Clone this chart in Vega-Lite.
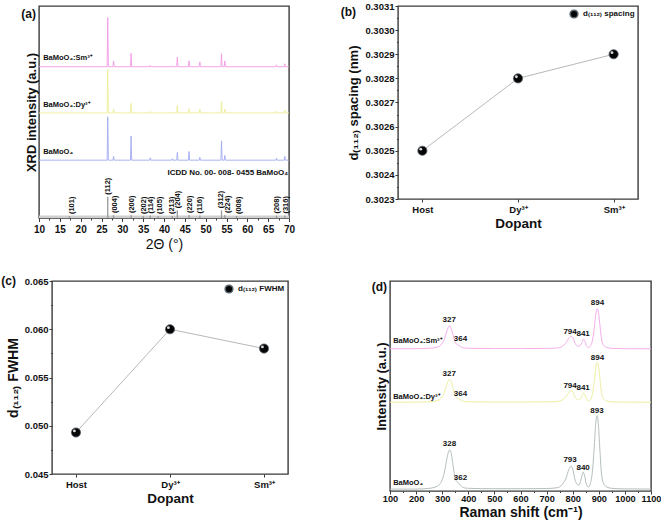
{
  "$schema": "https://vega.github.io/schema/vega-lite/v6.json",
  "padding": {"left": 0, "top": 0, "right": 2, "bottom": 2},
  "spacing": 21,
  "resolve": {"scale": {"color": "independent", "shape": "independent"}, "legend": {"shape": "independent", "color": "independent"}},
  "config": {
    "font": "Liberation Sans",
    "view": {"stroke": "#3a3a3a", "strokeWidth": 1.4},
    "axis": {"labelFont": "Liberation Sans", "labelFontWeight": "bold", "labelColor": "#111", "labelFontSize": 9.5, "titleFont": "Liberation Sans", "titleFontWeight": "bold", "titleColor": "#111", "domain": false, "grid": false, "tickColor": "#3a3a3a", "tickWidth": 1, "labelFlush": false, "labelOverlap": false},
    "title": {"font": "Liberation Sans", "fontWeight": "bold", "fontSize": 12, "color": "#111"},
    "legend": {"labelFont": "Liberation Sans", "labelFontWeight": "bold", "labelFontSize": 8, "labelColor": "#111", "padding": 0, "offset": 3, "symbolSize": 60, "labelOffset": 4}
  },
  "vconcat": [
    {
      "spacing": 0,
      "bounds": "flush",
      "resolve": {"scale": {"color": "independent", "shape": "independent"}, "legend": {"shape": "independent", "color": "independent"}},
      "hconcat": [
        {"width": 38, "height": 10, "data": {"values": [{"q": 0}]}, "mark": {"type": "point", "opacity": 0}, "encoding": {}, "view": {"stroke": null}},
        {
          "width": 250, "height": 212,
          "title": {"text": "(a)", "anchor": "start", "align": "right", "baseline": "middle", "dx": -3, "dy": 20, "offset": 0, "frame": "group"},
          "layer": [
            {
              "data": {"values": [
                {"s": "Host", "t": 10, "i": 60}, {"s": "Host", "t": 26.35, "i": 60}, {"s": "Host", "t": 26.5, "i": 105}, {"s": "Host", "t": 26.65, "i": 60},
                {"s": "Host", "t": 27.75, "i": 60}, {"s": "Host", "t": 27.9, "i": 64}, {"s": "Host", "t": 28.05, "i": 60},
                {"s": "Host", "t": 31.95, "i": 60}, {"s": "Host", "t": 32.1, "i": 85}, {"s": "Host", "t": 32.25, "i": 60},
                {"s": "Host", "t": 36.55, "i": 60}, {"s": "Host", "t": 36.7, "i": 62.5}, {"s": "Host", "t": 36.85, "i": 60},
                {"s": "Host", "t": 41.85, "i": 60}, {"s": "Host", "t": 42.0, "i": 61.5}, {"s": "Host", "t": 42.15, "i": 60},
                {"s": "Host", "t": 43.05, "i": 60}, {"s": "Host", "t": 43.2, "i": 68}, {"s": "Host", "t": 43.35, "i": 60},
                {"s": "Host", "t": 45.85, "i": 60}, {"s": "Host", "t": 46.0, "i": 69}, {"s": "Host", "t": 46.15, "i": 60},
                {"s": "Host", "t": 48.45, "i": 60}, {"s": "Host", "t": 48.6, "i": 63}, {"s": "Host", "t": 48.75, "i": 60},
                {"s": "Host", "t": 53.65, "i": 60}, {"s": "Host", "t": 53.8, "i": 80}, {"s": "Host", "t": 53.95, "i": 60},
                {"s": "Host", "t": 54.45, "i": 60}, {"s": "Host", "t": 54.6, "i": 65}, {"s": "Host", "t": 54.75, "i": 60},
                {"s": "Host", "t": 66.85, "i": 60}, {"s": "Host", "t": 67.0, "i": 62}, {"s": "Host", "t": 67.15, "i": 60},
                {"s": "Host", "t": 68.85, "i": 60}, {"s": "Host", "t": 69.0, "i": 64}, {"s": "Host", "t": 69.15, "i": 60}, {"s": "Host", "t": 70, "i": 60},

                {"s": "Dy", "t": 10, "i": 109}, {"s": "Dy", "t": 26.35, "i": 109}, {"s": "Dy", "t": 26.5, "i": 154}, {"s": "Dy", "t": 26.65, "i": 109},
                {"s": "Dy", "t": 27.75, "i": 109}, {"s": "Dy", "t": 27.9, "i": 113}, {"s": "Dy", "t": 28.05, "i": 109},
                {"s": "Dy", "t": 31.95, "i": 109}, {"s": "Dy", "t": 32.1, "i": 119}, {"s": "Dy", "t": 32.25, "i": 109},
                {"s": "Dy", "t": 36.55, "i": 109}, {"s": "Dy", "t": 36.7, "i": 110.5}, {"s": "Dy", "t": 36.85, "i": 109},
                {"s": "Dy", "t": 41.85, "i": 109}, {"s": "Dy", "t": 42.0, "i": 110}, {"s": "Dy", "t": 42.15, "i": 109},
                {"s": "Dy", "t": 43.05, "i": 109}, {"s": "Dy", "t": 43.2, "i": 117}, {"s": "Dy", "t": 43.35, "i": 109},
                {"s": "Dy", "t": 45.85, "i": 109}, {"s": "Dy", "t": 46.0, "i": 113.5}, {"s": "Dy", "t": 46.15, "i": 109},
                {"s": "Dy", "t": 48.45, "i": 109}, {"s": "Dy", "t": 48.6, "i": 113}, {"s": "Dy", "t": 48.75, "i": 109},
                {"s": "Dy", "t": 53.65, "i": 109}, {"s": "Dy", "t": 53.8, "i": 121}, {"s": "Dy", "t": 53.95, "i": 109},
                {"s": "Dy", "t": 54.45, "i": 109}, {"s": "Dy", "t": 54.6, "i": 113}, {"s": "Dy", "t": 54.75, "i": 109},
                {"s": "Dy", "t": 66.85, "i": 109}, {"s": "Dy", "t": 67.0, "i": 111}, {"s": "Dy", "t": 67.15, "i": 109},
                {"s": "Dy", "t": 68.85, "i": 109}, {"s": "Dy", "t": 69.0, "i": 112}, {"s": "Dy", "t": 69.15, "i": 109}, {"s": "Dy", "t": 70, "i": 109},

                {"s": "Sm", "t": 10, "i": 157}, {"s": "Sm", "t": 26.35, "i": 157}, {"s": "Sm", "t": 26.5, "i": 208}, {"s": "Sm", "t": 26.65, "i": 157},
                {"s": "Sm", "t": 27.75, "i": 157}, {"s": "Sm", "t": 27.9, "i": 163}, {"s": "Sm", "t": 28.05, "i": 157},
                {"s": "Sm", "t": 31.95, "i": 157}, {"s": "Sm", "t": 32.1, "i": 171}, {"s": "Sm", "t": 32.25, "i": 157},
                {"s": "Sm", "t": 36.55, "i": 157}, {"s": "Sm", "t": 36.7, "i": 158.5}, {"s": "Sm", "t": 36.85, "i": 157},
                {"s": "Sm", "t": 41.85, "i": 157}, {"s": "Sm", "t": 42.0, "i": 158}, {"s": "Sm", "t": 42.15, "i": 157},
                {"s": "Sm", "t": 43.05, "i": 157}, {"s": "Sm", "t": 43.2, "i": 167}, {"s": "Sm", "t": 43.35, "i": 157},
                {"s": "Sm", "t": 45.85, "i": 157}, {"s": "Sm", "t": 46.0, "i": 163}, {"s": "Sm", "t": 46.15, "i": 157},
                {"s": "Sm", "t": 48.45, "i": 157}, {"s": "Sm", "t": 48.6, "i": 162}, {"s": "Sm", "t": 48.75, "i": 157},
                {"s": "Sm", "t": 53.65, "i": 157}, {"s": "Sm", "t": 53.8, "i": 170.5}, {"s": "Sm", "t": 53.95, "i": 157},
                {"s": "Sm", "t": 54.45, "i": 157}, {"s": "Sm", "t": 54.6, "i": 163}, {"s": "Sm", "t": 54.75, "i": 157},
                {"s": "Sm", "t": 66.85, "i": 157}, {"s": "Sm", "t": 67.0, "i": 159}, {"s": "Sm", "t": 67.15, "i": 157},
                {"s": "Sm", "t": 68.85, "i": 157}, {"s": "Sm", "t": 69.0, "i": 160}, {"s": "Sm", "t": 69.15, "i": 157}, {"s": "Sm", "t": 70, "i": 157}
              ]},
              "mark": {"type": "line", "strokeWidth": 0.9},
              "encoding": {
                "x": {"field": "t", "type": "quantitative", "scale": {"domain": [10, 70]},
                  "axis": {"title": "2Θ (°)", "titleFontWeight": "normal", "titleFontSize": 14, "titlePadding": 3, "labelFontSize": 10, "labelPadding": 3, "labelOverlap": false, "tickCount": 60,
                    "values": [10, 12.5, 15, 17.5, 20, 22.5, 25, 27.5, 30, 32.5, 35, 37.5, 40, 42.5, 45, 47.5, 50, 52.5, 55, 57.5, 60, 62.5, 65, 67.5, 70],
                    "labelExpr": "datum.value % 5 === 0 ? datum.label : ''",
                    "tickSize": {"condition": {"test": "datum.value % 5 === 0", "value": 3.5}, "value": 2}}},
                "y": {"field": "i", "type": "quantitative", "scale": {"domain": [0, 212]},
                  "axis": {"title": "XRD intensity (a.u.)", "labels": false, "ticks": false, "titleFontSize": 13, "titlePadding": 1}},
                "color": {"field": "s", "type": "nominal", "scale": {"domain": ["Sm", "Dy", "Host"], "range": ["#f29be4", "#eded98", "#a3abf0"]}, "legend": null}
              }
            },
            {
              "data": {"values": [{"a": 10, "b": 70, "c": 1.3}]},
              "mark": {"type": "rule", "color": "#cfcfcf", "strokeWidth": 2.5},
              "encoding": {"x": {"field": "a", "type": "quantitative"}, "x2": {"field": "b"}, "y": {"field": "c", "type": "quantitative"}}
            },
            {
              "data": {"values": [
                {"hkl": "(101)", "t": 17.3, "h": 2, "lx": 17.8, "z": 0},
                {"hkl": "(112)", "t": 26.5, "h": 22, "lx": 26.6, "z": 0},
                {"hkl": "(004)", "t": 27.9, "h": 3, "lx": 28.2, "z": 0},
                {"hkl": "(200)", "t": 32.1, "h": 3, "lx": 32.3, "z": 0},
                {"hkl": "(202)", "t": 35.0, "h": 2, "lx": 35.1, "z": 0},
                {"hkl": "(114)", "t": 36.7, "h": 2.5, "lx": 36.9, "z": 0},
                {"hkl": "(105)", "t": 38.6, "h": 2, "lx": 39.0, "z": 0},
                {"hkl": "(213)", "t": 42.0, "h": 2, "lx": 41.9, "z": 0},
                {"hkl": "(204)", "t": 43.2, "h": 8, "lx": 43.3, "z": 0},
                {"hkl": "(220)", "t": 46.0, "h": 3, "lx": 46.2, "z": 0},
                {"hkl": "(116)", "t": 48.6, "h": 2.5, "lx": 48.6, "z": 0},
                {"hkl": "(312)", "t": 53.8, "h": 8, "lx": 53.7, "z": 0},
                {"hkl": "(224)", "t": 54.6, "h": 3, "lx": 55.4, "z": 0},
                {"hkl": "(008)", "t": 57.4, "h": 2, "lx": 58.0, "z": 0},
                {"hkl": "(208)", "t": 67.0, "h": 2.5, "lx": 67.1, "z": 0},
                {"hkl": "(316)", "t": 69.0, "h": 2.5, "lx": 69.3, "z": 0}
              ]},
              "layer": [
                {
                  "mark": {"type": "rule", "color": "#9a9a9a", "strokeWidth": 1.3},
                  "encoding": {"x": {"field": "t", "type": "quantitative"}, "y": {"field": "h", "type": "quantitative"}, "y2": {"field": "z"}}
                },
                {
                  "mark": {"type": "text", "angle": 270, "align": "left", "baseline": "middle", "dx": 2, "fontSize": 7.5, "fontWeight": "bold", "color": "#111"},
                  "encoding": {"x": {"field": "lx", "type": "quantitative"}, "y": {"field": "h", "type": "quantitative"}, "text": {"field": "hkl"}}
                }
              ]
            },
            {
              "data": {"values": [
                {"txt": "BaMoO₄:Sm³⁺", "t": 11, "i": 166},
                {"txt": "BaMoO₄:Dy³⁺", "t": 11, "i": 117},
                {"txt": "BaMoO₄", "t": 11, "i": 69}
              ]},
              "mark": {"type": "text", "align": "left", "baseline": "middle", "fontSize": 7.5, "fontWeight": "bold", "color": "#111"},
              "encoding": {"x": {"field": "t", "type": "quantitative"}, "y": {"field": "i", "type": "quantitative"}, "text": {"field": "txt"}}
            },
            {
              "data": {"values": [{"txt": "ICDD No. 00- 008- 0455 BaMoO₄", "t": 69.8, "i": 47}]},
              "mark": {"type": "text", "align": "right", "baseline": "middle", "fontSize": 8, "fontWeight": "bold", "color": "#111"},
              "encoding": {"x": {"field": "t", "type": "quantitative"}, "y": {"field": "i", "type": "quantitative"}, "text": {"field": "txt"}}
            }
          ]
        },
        {"width": 109, "height": 10, "data": {"values": [{"q": 0}]}, "mark": {"type": "point", "opacity": 0}, "encoding": {}, "view": {"stroke": null}},
        {
          "width": 240, "height": 193,
          "title": {"text": "(b)", "anchor": "start", "align": "right", "baseline": "middle", "dx": -42, "dy": 23, "offset": 0, "frame": "group"},
          "data": {"values": [
            {"dop": "Host", "d": 0.3025, "series": "d₍₁₁₂₎ spacing"},
            {"dop": "Dy³⁺", "d": 0.3028, "series": "d₍₁₁₂₎ spacing"},
            {"dop": "Sm³⁺", "d": 0.3029, "series": "d₍₁₁₂₎ spacing"}
          ]},
          "encoding": {
            "x": {"field": "dop", "type": "nominal", "sort": null, "scale": {"type": "point", "padding": 0.255},
              "axis": {"title": "Dopant", "labelAngle": 0, "tickSize": 3, "labelPadding": 2.5, "titleFontSize": 13.5, "titlePadding": 2}},
            "y": {"field": "d", "type": "quantitative", "scale": {"domain": [0.3023, 0.3031], "zero": false},
              "axis": {"title": "d₍₁₁₂₎ spacing (nm)", "titleFontSize": 13, "titlePadding": 4, "format": ".4f", "labelOverlap": false, "tickCount": 60,
                "values": [0.3023, 0.30235, 0.3024, 0.30245, 0.3025, 0.30255, 0.3026, 0.30265, 0.3027, 0.30275, 0.3028, 0.30285, 0.3029, 0.30295, 0.303, 0.30305, 0.3031],
                "labelExpr": "round(datum.value*20000) % 2 === 0 ? datum.label : ''",
                "tickSize": {"condition": {"test": "round(datum.value*20000) % 2 === 0", "value": 3}, "value": 1.5}, "labelPadding": 1}}
          },
          "layer": [
            {"mark": {"type": "line", "color": "#b8b8b8", "strokeWidth": 1}},
            {
              "mark": {"type": "point", "filled": true, "size": 85, "opacity": 1, "color": "#050505", "stroke": "#5a6670", "strokeWidth": 0.8},
              "encoding": {"shape": {"field": "series", "type": "nominal", "scale": {"range": ["circle"]}, "legend": {"title": null, "orient": "top-right", "offset": 3}}}
            },
            {"mark": {"type": "point", "filled": true, "size": 8, "opacity": 0.85, "color": "#ffffff", "xOffset": -1.6, "yOffset": -1.6}}
          ]
        }
      ]
    },
    {
      "spacing": 0,
      "bounds": "flush",
      "resolve": {"scale": {"color": "independent", "shape": "independent"}, "legend": {"shape": "independent", "color": "independent"}},
      "hconcat": [
        {"width": 51, "height": 10, "data": {"values": [{"q": 0}]}, "mark": {"type": "point", "opacity": 0}, "encoding": {}, "view": {"stroke": null}},
        {
          "width": 236, "height": 193,
          "title": {"text": "(c)", "anchor": "start", "align": "right", "baseline": "middle", "dx": -36, "dy": 17, "offset": 0, "frame": "group"},
          "data": {"values": [
            {"dop": "Host", "f": 0.0493, "series": "d₍₁₁₂₎ FWHM"},
            {"dop": "Dy³⁺", "f": 0.0600, "series": "d₍₁₁₂₎ FWHM"},
            {"dop": "Sm³⁺", "f": 0.0580, "series": "d₍₁₁₂₎ FWHM"}
          ]},
          "encoding": {
            "x": {"field": "dop", "type": "nominal", "sort": null, "scale": {"type": "point", "padding": 0.255},
              "axis": {"title": "Dopant", "labelAngle": 0, "tickSize": 3, "labelPadding": 2.5, "titleFontSize": 13.5, "titlePadding": 2}},
            "y": {"field": "f", "type": "quantitative", "scale": {"domain": [0.045, 0.065], "zero": false},
              "axis": {"title": "d₍₁₁₂₎ FWHM", "titleFontSize": 14, "titlePadding": 4, "format": ".3f", "labelOverlap": false, "tickCount": 60,
                "values": [0.045, 0.0475, 0.05, 0.0525, 0.055, 0.0575, 0.06, 0.0625, 0.065],
                "labelExpr": "round(datum.value*400) % 2 === 0 ? datum.label : ''",
                "tickSize": {"condition": {"test": "round(datum.value*400) % 2 === 0", "value": 3}, "value": 1.5}, "labelPadding": 1}}
          },
          "layer": [
            {"mark": {"type": "line", "color": "#b8b8b8", "strokeWidth": 1}},
            {
              "mark": {"type": "point", "filled": true, "size": 85, "opacity": 1, "color": "#050505", "stroke": "#5a6670", "strokeWidth": 0.8},
              "encoding": {"shape": {"field": "series", "type": "nominal", "scale": {"range": ["circle"]}, "legend": {"title": null, "orient": "top-right", "offset": 3}}}
            },
            {"mark": {"type": "point", "filled": true, "size": 8, "opacity": 0.85, "color": "#ffffff", "xOffset": -1.6, "yOffset": -1.6}}
          ]
        },
        {"width": 102, "height": 10, "data": {"values": [{"q": 0}]}, "mark": {"type": "point", "opacity": 0}, "encoding": {}, "view": {"stroke": null}},
        {
          "width": 261, "height": 210,
          "title": {"text": "(d)", "anchor": "start", "align": "right", "baseline": "middle", "dx": -3, "dy": 18, "offset": 0, "frame": "group"},
          "layer": [
            {
              "data": {"values": [
                {"s": "Host", "w": 100, "v": 2}, {"s": "Host", "w": 200, "v": 2}, {"s": "Host", "w": 250, "v": 2.8}, {"s": "Host", "w": 280, "v": 4.9}, {"s": "Host", "w": 300, "v": 11.8}, {"s": "Host", "w": 310, "v": 21.7}, {"s": "Host", "w": 318, "v": 34}, {"s": "Host", "w": 323, "v": 40.1}, {"s": "Host", "w": 328, "v": 43}, {"s": "Host", "w": 333, "v": 41}, {"s": "Host", "w": 340, "v": 29.9}, {"s": "Host", "w": 348, "v": 15.5}, {"s": "Host", "w": 355, "v": 10.2}, {"s": "Host", "w": 362, "v": 8.6}, {"s": "Host", "w": 370, "v": 6.1}, {"s": "Host", "w": 380, "v": 3.6}, {"s": "Host", "w": 400, "v": 2.8}, {"s": "Host", "w": 500, "v": 2.4}, {"s": "Host", "w": 600, "v": 2.4}, {"s": "Host", "w": 700, "v": 2.6}, {"s": "Host", "w": 740, "v": 3.4}, {"s": "Host", "w": 760, "v": 6.8}, {"s": "Host", "w": 775, "v": 14}, {"s": "Host", "w": 785, "v": 22.4}, {"s": "Host", "w": 793, "v": 26}, {"s": "Host", "w": 800, "v": 23.1}, {"s": "Host", "w": 808, "v": 12.8}, {"s": "Host", "w": 815, "v": 7.6}, {"s": "Host", "w": 822, "v": 6.2}, {"s": "Host", "w": 830, "v": 10}, {"s": "Host", "w": 835, "v": 15.5}, {"s": "Host", "w": 840, "v": 20}, {"s": "Host", "w": 846, "v": 15.5}, {"s": "Host", "w": 852, "v": 7.4}, {"s": "Host", "w": 860, "v": 4.2}, {"s": "Host", "w": 868, "v": 8.2}, {"s": "Host", "w": 875, "v": 19}, {"s": "Host", "w": 882, "v": 44}, {"s": "Host", "w": 888, "v": 70}, {"s": "Host", "w": 893, "v": 79}, {"s": "Host", "w": 898, "v": 71}, {"s": "Host", "w": 904, "v": 44}, {"s": "Host", "w": 910, "v": 19}, {"s": "Host", "w": 918, "v": 8.2}, {"s": "Host", "w": 930, "v": 4.3}, {"s": "Host", "w": 950, "v": 2.8}, {"s": "Host", "w": 1000, "v": 2.2}, {"s": "Host", "w": 1100, "v": 2},

                {"s": "Dy", "w": 100, "v": 93}, {"s": "Dy", "w": 200, "v": 93.1}, {"s": "Dy", "w": 250, "v": 93.5}, {"s": "Dy", "w": 280, "v": 94.7}, {"s": "Dy", "w": 300, "v": 98.8}, {"s": "Dy", "w": 310, "v": 104.5}, {"s": "Dy", "w": 318, "v": 111.7}, {"s": "Dy", "w": 323, "v": 115.3}, {"s": "Dy", "w": 327, "v": 117}, {"s": "Dy", "w": 332, "v": 115.8}, {"s": "Dy", "w": 340, "v": 109.3}, {"s": "Dy", "w": 348, "v": 101}, {"s": "Dy", "w": 355, "v": 97.8}, {"s": "Dy", "w": 362, "v": 96.8}, {"s": "Dy", "w": 370, "v": 95.4}, {"s": "Dy", "w": 380, "v": 94}, {"s": "Dy", "w": 400, "v": 93.5}, {"s": "Dy", "w": 500, "v": 93.2}, {"s": "Dy", "w": 600, "v": 93.2}, {"s": "Dy", "w": 700, "v": 93.4}, {"s": "Dy", "w": 740, "v": 93.8}, {"s": "Dy", "w": 760, "v": 95.4}, {"s": "Dy", "w": 775, "v": 99}, {"s": "Dy", "w": 785, "v": 103.2}, {"s": "Dy", "w": 794, "v": 105}, {"s": "Dy", "w": 801, "v": 103.6}, {"s": "Dy", "w": 809, "v": 98.4}, {"s": "Dy", "w": 816, "v": 96}, {"s": "Dy", "w": 822, "v": 95.5}, {"s": "Dy", "w": 831, "v": 97}, {"s": "Dy", "w": 836, "v": 100}, {"s": "Dy", "w": 841, "v": 103}, {"s": "Dy", "w": 847, "v": 100.5}, {"s": "Dy", "w": 853, "v": 96}, {"s": "Dy", "w": 861, "v": 94.4}, {"s": "Dy", "w": 869, "v": 96.4}, {"s": "Dy", "w": 876, "v": 102.2}, {"s": "Dy", "w": 883, "v": 116}, {"s": "Dy", "w": 889, "v": 130}, {"s": "Dy", "w": 894, "v": 135}, {"s": "Dy", "w": 899, "v": 130.8}, {"s": "Dy", "w": 905, "v": 116}, {"s": "Dy", "w": 911, "v": 102.2}, {"s": "Dy", "w": 919, "v": 96.4}, {"s": "Dy", "w": 931, "v": 94.3}, {"s": "Dy", "w": 950, "v": 93.4}, {"s": "Dy", "w": 1000, "v": 93.1}, {"s": "Dy", "w": 1100, "v": 93},

                {"s": "Sm", "w": 100, "v": 149}, {"s": "Sm", "w": 200, "v": 149.1}, {"s": "Sm", "w": 250, "v": 149.5}, {"s": "Sm", "w": 280, "v": 150.7}, {"s": "Sm", "w": 300, "v": 154.8}, {"s": "Sm", "w": 310, "v": 160.5}, {"s": "Sm", "w": 318, "v": 167.7}, {"s": "Sm", "w": 323, "v": 171.3}, {"s": "Sm", "w": 327, "v": 173}, {"s": "Sm", "w": 332, "v": 171.8}, {"s": "Sm", "w": 340, "v": 165.3}, {"s": "Sm", "w": 348, "v": 157}, {"s": "Sm", "w": 355, "v": 153.8}, {"s": "Sm", "w": 362, "v": 152.8}, {"s": "Sm", "w": 370, "v": 151.4}, {"s": "Sm", "w": 380, "v": 150}, {"s": "Sm", "w": 400, "v": 149.5}, {"s": "Sm", "w": 500, "v": 149.2}, {"s": "Sm", "w": 600, "v": 149.2}, {"s": "Sm", "w": 700, "v": 149.4}, {"s": "Sm", "w": 740, "v": 149.8}, {"s": "Sm", "w": 760, "v": 151.5}, {"s": "Sm", "w": 775, "v": 155.5}, {"s": "Sm", "w": 785, "v": 160}, {"s": "Sm", "w": 794, "v": 162}, {"s": "Sm", "w": 801, "v": 160.5}, {"s": "Sm", "w": 809, "v": 154.8}, {"s": "Sm", "w": 816, "v": 152}, {"s": "Sm", "w": 822, "v": 151.5}, {"s": "Sm", "w": 831, "v": 153}, {"s": "Sm", "w": 836, "v": 156}, {"s": "Sm", "w": 841, "v": 159}, {"s": "Sm", "w": 847, "v": 156.5}, {"s": "Sm", "w": 853, "v": 152}, {"s": "Sm", "w": 861, "v": 150.4}, {"s": "Sm", "w": 869, "v": 152.4}, {"s": "Sm", "w": 876, "v": 158.2}, {"s": "Sm", "w": 883, "v": 172}, {"s": "Sm", "w": 889, "v": 186}, {"s": "Sm", "w": 894, "v": 191}, {"s": "Sm", "w": 899, "v": 186.8}, {"s": "Sm", "w": 905, "v": 172}, {"s": "Sm", "w": 911, "v": 158.2}, {"s": "Sm", "w": 919, "v": 152.4}, {"s": "Sm", "w": 931, "v": 150.3}, {"s": "Sm", "w": 950, "v": 149.4}, {"s": "Sm", "w": 1000, "v": 149.1}, {"s": "Sm", "w": 1100, "v": 149}
              ]},
              "mark": {"type": "line", "strokeWidth": 1, "interpolate": "monotone"},
              "encoding": {
                "x": {"field": "w", "type": "quantitative", "scale": {"domain": [100, 1100]},
                  "axis": {"title": "Raman shift (cm⁻¹)", "titleFontSize": 14, "titlePadding": 2, "labelPadding": 0.5, "labelOverlap": false, "tickCount": 60, "labelFontSize": 9.2, "format": "d",
                    "values": [100, 150, 200, 250, 300, 350, 400, 450, 500, 550, 600, 650, 700, 750, 800, 850, 900, 950, 1000, 1050, 1100],
                    "labelExpr": "datum.value % 100 === 0 ? datum.label : ''",
                    "tickSize": {"condition": {"test": "datum.value % 100 === 0", "value": 3}, "value": 1.5}}},
                "y": {"field": "v", "type": "quantitative", "scale": {"domain": [0, 210]},
                  "axis": {"title": "Intensity (a.u.)", "labels": false, "ticks": false, "titleFontSize": 13, "titlePadding": 2}},
                "color": {"field": "s", "type": "nominal", "scale": {"domain": ["Sm", "Dy", "Host"], "range": ["#f5aeec", "#eeeea4", "#b5bfbc"]}, "legend": null}
              }
            },
            {
              "data": {"values": [
                {"lab": "328", "w": 328, "v": 49}, {"lab": "362", "w": 370, "v": 14}, {"lab": "793", "w": 790, "v": 32}, {"lab": "840", "w": 840, "v": 24}, {"lab": "893", "w": 893, "v": 84},
                {"lab": "327", "w": 327, "v": 123}, {"lab": "364", "w": 370, "v": 102}, {"lab": "794", "w": 790, "v": 110}, {"lab": "841", "w": 840, "v": 108}, {"lab": "894", "w": 895, "v": 139},
                {"lab": "327", "w": 327, "v": 179}, {"lab": "364", "w": 370, "v": 159}, {"lab": "794", "w": 790, "v": 167}, {"lab": "841", "w": 840, "v": 165}, {"lab": "894", "w": 895, "v": 197}
              ]},
              "mark": {"type": "text", "align": "center", "baseline": "middle", "fontSize": 8, "fontWeight": "bold", "color": "#111"},
              "encoding": {"x": {"field": "w", "type": "quantitative"}, "y": {"field": "v", "type": "quantitative"}, "text": {"field": "lab"}}
            },
            {
              "data": {"values": [
                {"txt": "BaMoO₄:Sm³⁺", "w": 112, "v": 157},
                {"txt": "BaMoO₄:Dy³⁺", "w": 112, "v": 99},
                {"txt": "BaMoO₄", "w": 112, "v": 8}
              ]},
              "mark": {"type": "text", "align": "left", "baseline": "middle", "fontSize": 7.5, "fontWeight": "bold", "color": "#111"},
              "encoding": {"x": {"field": "w", "type": "quantitative"}, "y": {"field": "v", "type": "quantitative"}, "text": {"field": "txt"}}
            }
          ]
        }
      ]
    }
  ]
}
